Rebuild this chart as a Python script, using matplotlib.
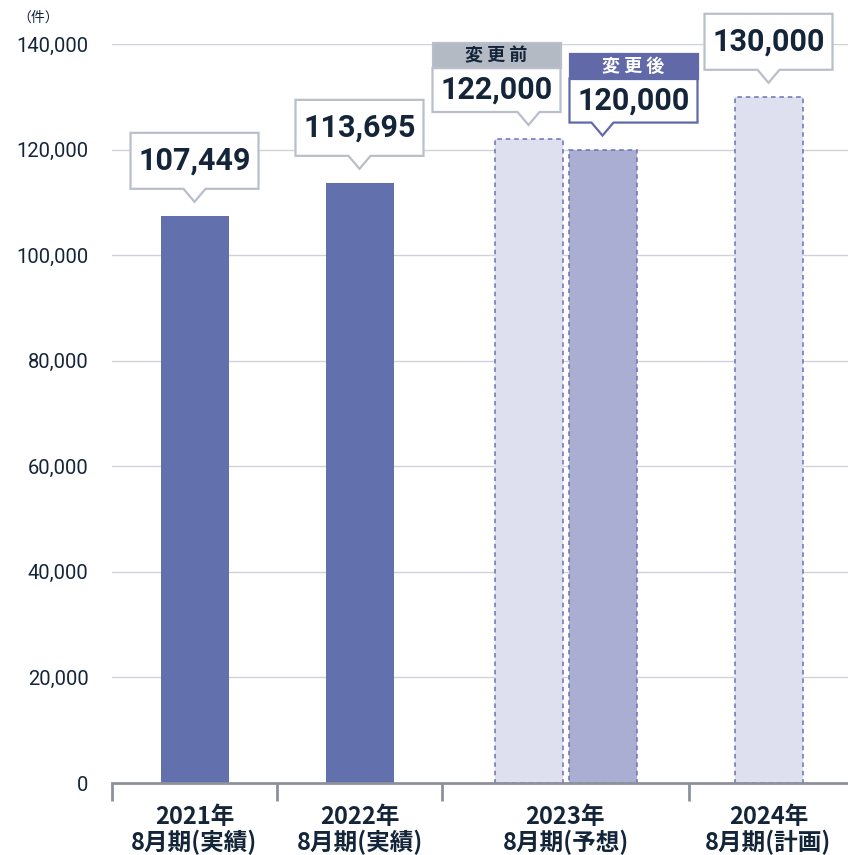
import matplotlib
matplotlib.use("Agg")
import matplotlib.pyplot as plt
from matplotlib.patches import Polygon, Rectangle
from matplotlib.transforms import IdentityTransform

# data
categories = ["2021年\n8月期(実績)", "2022年\n8月期(実績)", "2023年\n8月期(予想)", "2024年\n8月期(計画)"]
actual_values = [107449, 113695]
forecast_before = 122000
forecast_after = 120000
plan_value = 130000
yticks = [0, 20000, 40000, 60000, 80000, 100000, 120000, 140000]

# layout (x in pixel-like units along the axis)
group_edges = [0, 165, 330, 577, 736]
group_centers = [(a + b) / 2 for a, b in zip(group_edges[:-1], group_edges[1:])]
bar_w = 68
pair_off = 37

navy = "#6270ad"
light = "#dfe0ef"
mid = "#aaaed3"
dash_edge = "#6a72b4"
box_gray = "#b9bfca"
text_dark = "#14253a"

plt.rcParams["font.family"] = ["Noto Sans CJK JP", "DejaVu Sans"]

fig = plt.figure(figsize=(8.48, 8.55), dpi=100)
ax = fig.add_axes([112 / 848, 1 - 783 / 855, 736 / 848, 739 / 855])
ax.set_xlim(0, 736)
ax.set_ylim(0, 140000)

# bars
ax.bar(group_centers[:2], actual_values, width=bar_w, color=navy, zorder=3)
x_before = group_centers[2] - pair_off
x_after = group_centers[2] + pair_off
ax.bar([x_before], [forecast_before], width=bar_w, color=light, edgecolor=dash_edge,
       linestyle=(0, (3, 2.5)), linewidth=1.1, zorder=3)
ax.bar([x_after], [forecast_after], width=bar_w, color=mid, edgecolor=dash_edge,
       linestyle=(0, (3, 2.5)), linewidth=1.1, zorder=3)
ax.bar([group_centers[3]], [plan_value], width=bar_w, color=light, edgecolor=dash_edge,
       linestyle=(0, (3, 2.5)), linewidth=1.1, zorder=3)

# axes styling
ax.set_yticks(yticks)
ax.set_yticklabels([f"{v:,}" for v in yticks], family=["Roboto", "DejaVu Sans"],
                   fontsize=14.5, color=text_dark)
ax.tick_params(axis="y", length=0, pad=17)
ax.yaxis.grid(True, color="#cfd2d8", linewidth=1)
ax.set_axisbelow(True)
for s in ["left", "right", "top"]:
    ax.spines[s].set_visible(False)
ax.spines["bottom"].set_color("#8c919b")
ax.spines["bottom"].set_linewidth(2)
ax.spines["bottom"].set_zorder(4)

ax.set_xticks(group_edges[:-1])
ax.set_xticklabels([])
ax.tick_params(axis="x", which="major", length=13, width=2, color="#8c919b")
ax.set_xticks(group_centers, minor=True)
ax.set_xticklabels(categories, minor=True, fontsize=17, fontweight="bold",
                   color=text_dark, linespacing=1.05)
ax.tick_params(axis="x", which="minor", length=0, pad=16)

fig.text(38 / 848, 1 - 18 / 855, "（件）", ha="center", va="center", fontsize=10,
         color=text_dark)

# callouts drawn in pixel coordinates
BOX_W, BOX_H, TIP_H, TIP_HW, GAP = 128, 56, 13, 11, 14
num_font = ["Roboto", "DejaVu Sans"]


def callout(x, value, header=None, header_fc=None, header_tc=None, edge=box_gray,
            body_h=BOX_H, shift=0):
    px, py = ax.transData.transform((x, value))
    tip_y = py + GAP
    b = tip_y + TIP_H
    t = b + body_h
    cx = px + shift
    left, right = cx - BOX_W / 2, cx + BOX_W / 2
    pts = [(left, b), (px - TIP_HW, b), (px, tip_y), (px + TIP_HW, b),
           (right, b), (right, t), (left, t)]
    fig.patches.append(Polygon(pts, closed=True, facecolor="white", edgecolor=edge,
                               linewidth=1.6, transform=IdentityTransform(),
                               joinstyle="miter"))
    fig.text(cx / 848, (b + body_h / 2) / 855, f"{value:,}", family=num_font,
             fontweight="bold", fontsize=22, color=text_dark, ha="center", va="center")
    if header:
        hh = 25
        fig.patches.append(Rectangle((left, t), BOX_W, hh, facecolor=header_fc,
                                     edgecolor=edge, linewidth=1.6,
                                     transform=IdentityTransform()))
        fig.text(cx / 848, (t + hh / 2) / 855, header, fontsize=13, fontweight="bold",
                 color=header_tc, ha="center", va="center")


callout(group_centers[0], actual_values[0])
callout(group_centers[1], actual_values[1])
callout(x_before, forecast_before, "変 更 前", "#b4bac4", text_dark, box_gray, 44, -32)
callout(x_after, forecast_after, "変 更 後", "#6169a9", "white", "#6169a9", 44, 31)
callout(group_centers[3], plan_value)

fig.savefig("out.png", dpi=100)
